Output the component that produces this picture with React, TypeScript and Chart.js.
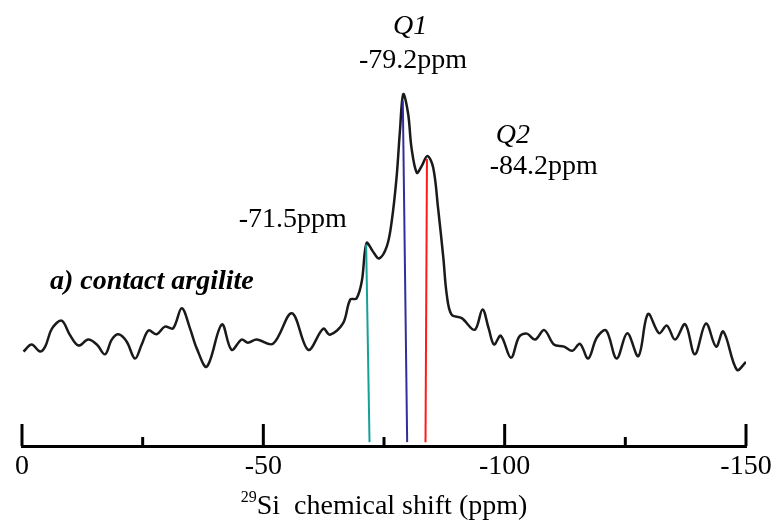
import React, { useEffect, useRef } from 'react';
import { Chart, registerables } from 'chart.js';

Chart.register(...registerables);

// 29Si NMR spectrum (chemical shift in ppm, intensity in arbitrary units)
const shiftPpm = [
  -0.3, -2.0, -3.7, -4.8, -6.2, -8.2, -9.9, -11.7, -13.7, -15.5,
  -17.2, -18.6, -20.0, -21.7, -23.4, -24.8, -26.2, -27.9, -29.6, -31.3,
  -33.1, -34.8, -36.2, -38.3, -41.4, -43.4, -45.5, -46.8, -48.6, -52.0,
  -55.9, -59.3, -62.4, -63.8, -66.5, -68.0, -69.3, -70.4, -71.4, -72.7,
  -74.0, -75.6, -76.6, -77.6, -78.3, -79.0, -80.0, -80.7, -81.8, -82.8,
  -84.0, -85.2, -86.2, -87.3, -88.0, -89.0, -91.1, -93.8, -95.4, -96.7,
  -97.8, -99.2, -101.3, -103.0, -104.6, -106.3, -108.2, -110.2, -112.3, -114.0,
  -115.6, -117.3, -119.1, -121.0, -123.2, -125.4, -127.7, -129.7, -132.0, -133.6,
  -135.3, -137.4, -139.4, -141.7, -143.8, -145.3, -148.1, -150.0,
];
const intensity = [
  26.9, 28.9, 26.9, 28.3, 33.4, 35.7, 31.7, 28.6, 30.3, 28.9,
  26.1, 30.3, 31.8, 29.7, 24.9, 28.9, 32.9, 31.8, 34.0, 33.5,
  39.2, 33.5, 27.8, 22.6, 34.6, 27.4, 30.3, 29.4, 30.3, 29.1,
  37.8, 27.4, 33.4, 31.7, 34.9, 41.7, 42.0, 46.9, 57.8, 55.4,
  53.4, 56.9, 64.0, 76.4, 89.7, 100.2, 94.6, 84.9, 77.8, 79.7,
  82.6, 79.2, 67.8, 53.5, 43.1, 37.4, 36.4, 33.1, 38.9, 33.4,
  28.9, 31.4, 25.1, 31.1, 32.0, 30.3, 33.0, 28.9, 28.3, 27.1,
  29.1, 24.9, 30.9, 32.9, 24.9, 32.1, 25.6, 37.6, 32.1, 34.3,
  30.3, 34.7, 26.1, 34.9, 28.3, 32.6, 21.7, 23.9,
];

// axis ticks
const tickValues = [0, -25, -50, -75, -100, -125, -150];
const labeledTicks = [0, -50, -100, -150];

// peak assignment lines
const markerTopPpm = [-71.3, -78.9, -83.9];
const markerBottomPpm = [-72.0, -79.8, -83.6];
const markerTopIntensity = [57.4, 98.3, 81.7];
const markerBottomIntensity = [1.1, 1.1, 1.1];
const markerColors = ['#17a09a', '#30309c', '#ff1a1a'];

// text annotations (anchored in data space)
const annotationTexts = ['Q1', '-79.2ppm', 'Q2', '-84.2ppm', '-71.5ppm', 'a) contact argilite'];
const annotationPpm = [-80.4, -81.0, -101.7, -108.1, -56.1, -26.9];
const annotationIntensity = [117.4, 107.7, 86.3, 77.4, 62.3, 44.6];
const annotationStyle = ['italic ', '', 'italic ', '', '', 'italic bold '];

const axisTitleSup = '29';
const axisTitleMain = 'Si  chemical shift (ppm)';

const SERIF = '"Liberation Serif", "Times New Roman", Times, serif';

export default function App() {
  const canvasRef = useRef<HTMLCanvasElement | null>(null);

  useEffect(() => {
    const canvas = canvasRef.current;
    if (!canvas) return;

    const tickPlugin = {
      id: 'innerTicks',
      afterDraw(chart: any) {
        const { ctx, chartArea, scales } = chart;
        const xs = scales.x;
        ctx.save();
        ctx.strokeStyle = '#000';
        ctx.lineWidth = 3;
        ctx.lineCap = 'butt';
        tickValues.forEach((v) => {
          const px = xs.getPixelForValue(v);
          const len = labeledTicks.includes(v) ? 22 : 9;
          ctx.beginPath();
          ctx.moveTo(px, chartArea.bottom);
          ctx.lineTo(px, chartArea.bottom - len);
          ctx.stroke();
        });
        // annotations
        ctx.fillStyle = '#000';
        ctx.textAlign = 'center';
        ctx.textBaseline = 'alphabetic';
        annotationTexts.forEach((t, i) => {
          ctx.font = `${annotationStyle[i]}28px ${SERIF}`;
          ctx.fillText(t, xs.getPixelForValue(annotationPpm[i]), scales.y.getPixelForValue(annotationIntensity[i]));
        });
        // axis title with superscript
        const mainFont = `28px ${SERIF}`;
        const supFont = `16px ${SERIF}`;
        ctx.font = mainFont;
        const wMain = ctx.measureText(axisTitleMain).width;
        ctx.font = supFont;
        const wSup = ctx.measureText(axisTitleSup).width;
        const cx = (chartArea.left + chartArea.right) / 2;
        const base = chartArea.bottom + 68;
        const x0 = cx - (wMain + wSup) / 2;
        ctx.textAlign = 'left';
        ctx.fillText(axisTitleSup, x0, base - 12);
        ctx.font = mainFont;
        ctx.fillText(axisTitleMain, x0 + wSup, base);
        ctx.restore();
      },
    };

    const datasets: any[] = markerColors.map((c, i) => ({
      data: [
        { x: markerTopPpm[i], y: markerTopIntensity[i] },
        { x: markerBottomPpm[i], y: markerBottomIntensity[i] },
      ],
      borderColor: c,
      borderWidth: 2,
      pointRadius: 0,
      tension: 0,
      order: 0,
    }));
    datasets.push({
      data: shiftPpm.map((x, i) => ({ x, y: intensity[i] })),
      borderColor: '#1a1a1a',
      borderWidth: 2.5,
      pointRadius: 0,
      tension: 0.35,
      order: 1,
    });

    const chart = new Chart(canvas, {
      type: 'line',
      data: { datasets },
      options: {
        animation: false,
        responsive: false,
        devicePixelRatio: 1,
        layout: { padding: { left: 22, right: 36, top: 0, bottom: 32.4 } },
        plugins: { legend: { display: false }, tooltip: { enabled: false } },
        scales: {
          x: {
            type: 'linear',
            min: -150,
            max: 0,
            reverse: true,
            grid: { display: false, drawTicks: false },
            border: { display: true, color: '#000', width: 3 },
            ticks: {
              stepSize: 50,
              padding: 4,
              color: '#000',
              font: { family: SERIF, size: 28 },
              maxRotation: 0,
              callback: (v: any) => (labeledTicks.includes(Number(v)) ? String(v) : ''),
            },
          },
          y: { display: false, min: 0, max: 127 },
        },
      },
      plugins: [tickPlugin],
    });
    return () => chart.destroy();
  }, []);

  return (
    <div style={{ position: 'fixed', left: 0, top: 0, width: 782, height: 520, background: '#fff' }}>
      <canvas ref={canvasRef} width={782} height={520} />
    </div>
  );
}
